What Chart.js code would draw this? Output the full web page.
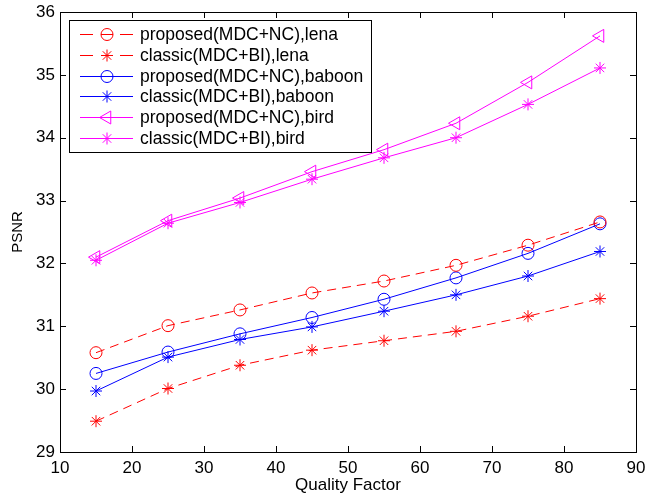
<!DOCTYPE html>
<html>
<head>
<meta charset="utf-8">
<script src="https://cdn.jsdelivr.net/npm/chart.js@4.4.1/dist/chart.umd.min.js"></script>
<style>
html,body{margin:0;padding:0;background:#fff;}
#wrap{width:646px;height:498px;position:relative;}
</style>
</head>
<body>
<div id="wrap"><canvas id="c" width="646" height="498"></canvas></div>
<script>
const qualityFactor = [15, 25, 35, 45, 55, 65, 75, 85];
const lenaProposed   = [30.58, 31.01, 31.26, 31.53, 31.72, 31.97, 32.29, 32.66];
const lenaClassic    = [29.49, 30.01, 30.38, 30.62, 30.77, 30.92, 31.16, 31.44];
const baboonProposed = [30.25, 30.59, 30.88, 31.14, 31.43, 31.77, 32.16, 32.63];
const baboonClassic  = [29.97, 30.51, 30.79, 30.99, 31.24, 31.50, 31.80, 32.19];
const birdProposed   = [32.10, 32.68, 33.04, 33.46, 33.81, 34.23, 34.88, 35.62];
const birdClassic    = [32.05, 32.64, 32.97, 33.34, 33.68, 34.00, 34.53, 35.11];
const seriesLabels = [
  'proposed(MDC+NC),lena', 'classic(MDC+BI),lena',
  'proposed(MDC+NC),baboon', 'classic(MDC+BI),baboon',
  'proposed(MDC+NC),bird', 'classic(MDC+BI),bird'
];
const xTicks = [10, 20, 30, 40, 50, 60, 70, 80, 90];
const yTicks = [29, 30, 31, 32, 33, 34, 35, 36];

const RED = '#ff0000', BLUE = '#0000ff', MAG = '#ff00ff';
const FONT = 'Liberation Sans, Arial, sans-serif';
const DASH = [9, 6];

function pts(vals){ return qualityFactor.map((x,i)=>({x:x, y:vals[i]})); }
function ds(label, vals, color, style, dashed, rot, r){
  return {
    label: label, data: pts(vals), borderColor: color, backgroundColor: 'rgba(0,0,0,0)',
    borderWidth: 1, borderDash: dashed ? DASH : [], pointStyle: style,
    pointRadius: r || 6, pointHoverRadius: r || 6, pointBorderColor: color, pointBackgroundColor: 'rgba(0,0,0,0)',
    pointBorderWidth: 1, pointRotation: rot || 0, tension: 0, fill: false
  };
}
const datasets = [
  ds(seriesLabels[0], lenaProposed, RED, 'circle', true),
  ds(seriesLabels[1], lenaClassic, RED, 'star', true),
  ds(seriesLabels[2], baboonProposed, BLUE, 'circle', false),
  ds(seriesLabels[3], baboonClassic, BLUE, 'star', false),
  ds(seriesLabels[4], birdProposed, MAG, 'triangle', false, -90, 7.5),
  ds(seriesLabels[5], birdClassic, MAG, 'star', false)
];

const framePlugin = {
  id: 'frame',
  afterDraw(chart){
    const ctx = chart.ctx, a = chart.chartArea;
    const xs = chart.scales.x, ys = chart.scales.y;
    ctx.save();
    ctx.strokeStyle = '#000'; ctx.lineWidth = 1; ctx.setLineDash([]);
    ctx.strokeRect(Math.round(a.left)+0.5, Math.round(a.top)+0.5, Math.round(a.right-a.left), Math.round(a.bottom-a.top));
    ctx.beginPath();
    const tl = 6;
    xTicks.forEach(v=>{
      const px = Math.round(xs.getPixelForValue(v))+0.5;
      ctx.moveTo(px, a.bottom); ctx.lineTo(px, a.bottom-tl);
      ctx.moveTo(px, a.top); ctx.lineTo(px, a.top+tl);
    });
    yTicks.forEach(v=>{
      const py = Math.round(ys.getPixelForValue(v))+0.5;
      ctx.moveTo(a.left, py); ctx.lineTo(a.left+tl, py);
      ctx.moveTo(a.right, py); ctx.lineTo(a.right-tl, py);
    });
    ctx.stroke();

    // legend inside plot area
    const bx = 69.5, by = 20.5, bw = 302, bh = 132, rowH = 20.8;
    ctx.fillStyle = '#fff';
    ctx.fillRect(bx, by, bw, bh);
    ctx.strokeStyle = '#000';
    ctx.strokeRect(bx, by, bw, bh);
    ctx.font = '17.5px ' + FONT;
    ctx.textBaseline = 'middle';
    chart.data.datasets.forEach((d,i)=>{
      const y = Math.round(34 + i*rowH) + 0.5;
      ctx.save();
      ctx.strokeStyle = d.borderColor; ctx.lineWidth = 1; ctx.setLineDash([]);
      ctx.beginPath();
      if (d.borderDash && d.borderDash.length) {
        ctx.moveTo(80, y); ctx.lineTo(93, y);
        ctx.moveTo(101, y); ctx.lineTo(113, y);
        ctx.moveTo(120, y); ctx.lineTo(133, y);
      } else {
        ctx.moveTo(80, y); ctx.lineTo(133, y);
      }
      ctx.stroke();
      ctx.fillStyle = 'rgba(0,0,0,0)';
      ctx.strokeStyle = d.pointBorderColor;
      Chart.helpers.drawPoint(ctx, {pointStyle: d.pointStyle, radius: d.pointRadius, rotation: d.pointRotation, borderWidth: 1}, 107, y);
      ctx.restore();
      ctx.fillStyle = '#000';
      ctx.fillText(d.label, 140, y+1);
    });
    ctx.restore();
  }
};

new Chart(document.getElementById('c'), {
  type: 'line',
  data: { datasets: datasets },
  options: {
    responsive: false, animation: false, devicePixelRatio: 1,
    layout: { padding: { top: 12, right: 10, left: 0, bottom: 0 } },
    plugins: { legend: { display: false }, tooltip: { enabled: false } },
    scales: {
      x: {
        type: 'linear', min: 10, max: 90,
        afterBuildTicks: s => { s.ticks = xTicks.map(v=>({value:v})); },
        afterFit: s => { s.height = 46; s.paddingLeft = 0; s.paddingRight = 0; },
        grid: { display: false, drawTicks: false },
        border: { display: false },
        ticks: { color: '#000', font: { family: FONT, size: 17 }, padding: 6, maxRotation: 0 },
        title: { display: true, text: 'Quality Factor', color: '#000', font: { family: FONT, size: 17 }, padding: { top: 0, bottom: 2 } }
      },
      y: {
        type: 'linear', min: 29, max: 36,
        afterBuildTicks: s => { s.ticks = yTicks.map(v=>({value:v})); },
        afterFit: s => { s.width = 60; s.paddingTop = 0; s.paddingBottom = 0; },
        grid: { display: false, drawTicks: false },
        border: { display: false },
        ticks: { color: '#000', font: { family: FONT, size: 17 }, padding: 5 },
        title: { display: true, text: 'PSNR', color: '#000', font: { family: FONT, size: 15 }, padding: { top: 9, bottom: 0 } }
      }
    }
  },
  plugins: [framePlugin]
});
</script>
</body>
</html>
